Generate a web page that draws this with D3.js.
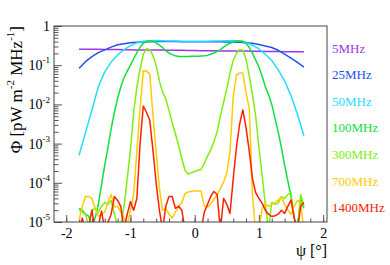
<!DOCTYPE html>
<html>
<head>
<meta charset="utf-8">
<script src="https://cdn.jsdelivr.net/npm/d3@7"></script>
<style>
  body { margin: 0; background: #fff; }
  text { font-family: "Liberation Serif", "DejaVu Serif", serif; }
</style>
</head>
<body>
<div id="chart"></div>
<script>
// psi in degrees: coarse grid for the smooth curves, fine grid for the noisy ones
var psiCoarse = [-1.8,-1.7,-1.6,-1.5,-1.4,-1.3,-1.2,-1.1,-1,-0.9,-0.8,-0.7,-0.6,-0.5,-0.4,-0.3,-0.2,-0.1,
  0,0.1,0.2,0.3,0.4,0.5,0.6,0.7,0.8,0.9,1,1.1,1.2,1.3,1.4,1.5,1.6,1.7];
var psiFine = [-1.8,-1.75,-1.7,-1.65,-1.6,-1.55,-1.5,-1.45,-1.4,-1.35,-1.3,-1.25,-1.2,-1.15,-1.1,-1.05,
  -1,-0.95,-0.9,-0.85,-0.8,-0.75,-0.7,-0.65,-0.6,-0.55,-0.5,-0.45,-0.4,-0.35,-0.3,-0.25,-0.2,-0.15,-0.1,-0.05,
  0,0.05,0.1,0.15,0.2,0.25,0.3,0.35,0.4,0.45,0.5,0.55,0.6,0.65,0.7,0.75,0.8,0.85,0.9,0.95,
  1,1.05,1.1,1.15,1.2,1.25,1.3,1.35,1.4,1.45,1.5,1.55,1.6,1.65,1.7];

// log10 of Phi [pW m^-2 MHz^-1]
var log5 = [-0.59,-0.59,-0.59,-0.595,-0.6,-0.6,-0.6,-0.605,-0.605,-0.61,-0.61,-0.61,-0.615,-0.615,-0.62,-0.62,-0.62,-0.625,
  -0.625,-0.63,-0.63,-0.63,-0.635,-0.635,-0.64,-0.64,-0.64,-0.645,-0.645,-0.65,-0.65,-0.65,-0.655,-0.655,-0.655,-0.66];
var log25 = [-1.08,-0.91,-0.78,-0.68,-0.61,-0.54,-0.48,-0.45,-0.43,-0.415,-0.405,-0.4,-0.395,-0.395,-0.395,-0.395,-0.4,-0.4,
  -0.4,-0.4,-0.4,-0.4,-0.4,-0.405,-0.41,-0.415,-0.425,-0.44,-0.47,-0.51,-0.55,-0.62,-0.72,-0.82,-0.93,-1.05];
var log50 = [-3.3,-2.72,-2.15,-1.55,-1.17,-0.92,-0.74,-0.6,-0.5,-0.43,-0.39,-0.375,-0.37,-0.375,-0.38,-0.385,-0.39,-0.39,
  -0.39,-0.39,-0.39,-0.385,-0.38,-0.375,-0.37,-0.38,-0.42,-0.49,-0.58,-0.72,-0.88,-1.12,-1.4,-1.78,-2.25,-2.8];
var log100 = [-4.65,-4.7,-4.8,-4.85,-5.15,-4.9,-4.55,-4.05,-3.55,-3.1,-2.62,-2.2,-1.85,-1.55,-1.32,-1.15,
  -1,-0.84,-0.68,-0.54,-0.44,-0.39,-0.38,-0.39,-0.43,-0.49,-0.55,-0.63,-0.69,-0.73,-0.76,-0.78,-0.78,-0.78,-0.775,-0.77,
  -0.77,-0.77,-0.765,-0.76,-0.75,-0.72,-0.69,-0.65,-0.6,-0.54,-0.48,-0.44,-0.41,-0.385,-0.38,-0.39,-0.44,-0.55,-0.7,-0.87,
  -1.05,-1.28,-1.55,-1.75,-2,-2.35,-2.7,-3.1,-3.55,-3.95,-4.35,-4.9,-5.2,-4.4,-4.65];
var log300 = [-4.7,-4.75,-4.8,-5.1,-4.7,-4.65,-4.75,-4.6,-4.5,-4.55,-4.45,-4.8,-5.1,-5.1,-4.6,-3.9,
  -3.16,-2.2,-1.55,-1.1,-0.72,-0.58,-0.6,-0.75,-1,-1.4,-1.68,-1.86,-2.15,-2.47,-2.75,-3.05,-3.38,-3.68,-3.78,-3.74,
  -3.71,-3.68,-3.66,-3.5,-3.32,-3.16,-2.95,-2.7,-2.3,-1.95,-1.6,-1.2,-0.88,-0.7,-0.6,-0.62,-0.85,-1.28,-1.75,-2.3,
  -3.1,-3.8,-4.55,-5.2,-4.5,-4.55,-4.52,-4.35,-4.4,-4.3,-4.25,-4.9,-5.2,-4.3,-4.6];
var log700 = [-4.95,-4.6,-4.35,-4.35,-4.4,-4.65,-4.85,-4.8,-4.75,-4.5,-4.3,-4.62,-4.6,-4.75,-4.88,-5.1,
  -4.7,-4.3,-3.2,-2.1,-1.14,-1.15,-1.22,-2.26,-3.2,-4.13,-4.7,-4.65,-4.8,-4.9,-4.75,-4.6,-4.5,-4.28,-4.23,-4.22,
  -4.21,-4.21,-4.21,-4.6,-4.62,-4.54,-4.42,-4.3,-4.15,-3.98,-3.75,-3.2,-1.8,-1.25,-1.2,-1.2,-1.7,-2.1,-4.3,-5.3,
  -5.2,-4.65,-4.54,-4.6,-4.55,-4.5,-4.45,-4.35,-4.55,-4.7,-4.8,-4.6,-4.45,-4.5,-5.2];
var log1400 = [-5.2,-4.9,-5.2,-5.1,-4.7,-5.2,-5.1,-4.72,-5.2,-5,-4.8,-4.35,-4.45,-4.6,-5.2,-4.8,
  -4.48,-4.7,-4.4,-3,-2.04,-2.2,-2.4,-3.16,-4,-4.69,-5.2,-4.6,-4.35,-4.35,-4.65,-4.6,-4.7,-5.2,-5.3,-5.3,
  -5.3,-5.3,-5.2,-4.75,-4.55,-4.35,-4.22,-4.3,-5.2,-4.4,-4.55,-4.78,-3.9,-3.1,-2.5,-2.14,-2.6,-3.2,-3.9,-4.25,
  -4.4,-4.52,-4.7,-4.8,-4.86,-4.84,-4.8,-4.7,-4.78,-4.6,-4.44,-4.9,-5.2,-4.6,-4.5];

var labels = ["5MHz", "25MHz", "50MHz", "100MHz", "300MHz", "700MHz", "1400MHz"];
var colors = ["#a033ee", "#2250ee", "#22ddff", "#11e040", "#80ee10", "#ffcc00", "#ff2000"];
var xTicks = [-2, -1, 0, 1, 2];
var yTicks = [1e-5, 1e-4, 1e-3, 1e-2, 1e-1, 1];

var series = [
  { psi: psiCoarse, v: log5 },
  { psi: psiCoarse, v: log25 },
  { psi: psiCoarse, v: log50 },
  { psi: psiFine, v: log100 },
  { psi: psiFine, v: log300 },
  { psi: psiFine, v: log700 },
  { psi: psiFine, v: log1400 }
];

var W = 390, H = 265;
var margin = { top: 26, right: 63, bottom: 43, left: 54 };
var width = W - margin.left - margin.right,
    height = H - margin.top - margin.bottom;

var svg = d3.select("#chart").append("svg")
  .attr("width", W).attr("height", H);
var g = svg.append("g")
  .attr("transform", "translate(" + margin.left + "," + margin.top + ")");

var x = d3.scaleLinear().domain([-2.19, 2.06]).range([0, width]);
var y = d3.scaleLog().domain([1e-5, 1]).range([height, 0]);

g.append("clipPath").attr("id", "clip")
  .append("rect").attr("width", width).attr("height", height);

// minor ticks
var xMinor = d3.range(-2.2, 2.01, 0.2).filter(function(d) { return x(d) >= 0 && x(d) <= width; });
g.append("g")
  .attr("transform", "translate(0," + height + ")")
  .call(d3.axisBottom(x).tickValues(xMinor).tickSize(-3.5).tickFormat(""))
  .call(function(a) { a.select(".domain").remove(); });

var yMinor = [];
yTicks.slice(0, -1).forEach(function(t) {
  for (var k = 2; k <= 9; k++) yMinor.push(t * k);
});
g.append("g")
  .call(d3.axisLeft(y).tickValues(yMinor).tickSize(-4.5).tickFormat(""))
  .call(function(a) { a.select(".domain").remove(); });

// major ticks + labels
var xAxis = g.append("g")
  .attr("transform", "translate(0," + height + ")")
  .call(d3.axisBottom(x).tickValues(xTicks).tickSizeInner(-7).tickSizeOuter(0).tickPadding(6)
    .tickFormat(function(d) { return String(d); }));
xAxis.select(".domain").remove();
xAxis.selectAll("text").attr("font-size", "14px").attr("fill", "#000");

var yAxis = g.append("g")
  .call(d3.axisLeft(y).tickValues(yTicks).tickSizeInner(-8).tickSizeOuter(0).tickPadding(4).tickFormat(""));
yAxis.select(".domain").remove();
yAxis.selectAll(".tick text").each(function(d) {
  var t = d3.select(this).attr("font-size", "14px").attr("fill", "#000");
  if (d === 1) { t.text("1"); return; }
  t.append("tspan").text("10");
  t.append("tspan").attr("font-size", "9px").attr("dy", "-0.75em").text(Math.round(Math.log10(d)));
});
g.selectAll(".tick line").attr("stroke", "#555");

// curves
var line = d3.line()
  .x(function(d) { return x(d[0]); })
  .y(function(d) { return y(Math.pow(10, d[1])); });

var curves = g.append("g").attr("clip-path", "url(#clip)");
series.forEach(function(s, i) {
  var pts = s.psi.map(function(p, j) { return [p, s.v[j]]; });
  curves.append("path")
    .datum(pts)
    .attr("d", line)
    .attr("fill", "none")
    .attr("stroke", colors[i])
    .attr("stroke-width", 1.5)
    .attr("stroke-linejoin", "round");
});

// frame
g.append("rect")
  .attr("width", width).attr("height", height)
  .attr("fill", "none").attr("stroke", "#444").attr("stroke-width", 1);

// legend labels on the right
svg.selectAll(".leg")
  .data(labels)
  .enter().append("text")
  .attr("class", "leg")
  .attr("x", 332)
  .attr("y", function(d, i) { return 52.5 + i * 26.6; })
  .attr("font-size", "13px")
  .attr("fill", function(d, i) { return colors[i]; })
  .text(function(d) { return d; });

// axis titles
svg.append("text")
  .attr("x", margin.left + width).attr("y", 256)
  .attr("text-anchor", "end")
  .attr("font-size", "16px")
  .text("\u03c8 [\u00b0]");

var yt = svg.append("text")
  .attr("transform", "translate(22," + margin.top + ")rotate(-90)")
  .attr("text-anchor", "end")
  .attr("font-size", "17px");
yt.append("tspan").text("\u03a6 [pW m");
yt.append("tspan").attr("font-size", "11px").attr("dy", "-0.7em").text("-2");
yt.append("tspan").attr("dy", "0.45em").text(" MHz");
yt.append("tspan").attr("font-size", "11px").attr("dy", "-0.7em").text("-1");
yt.append("tspan").attr("dy", "0.45em").text("]");
</script>
</body>
</html>
